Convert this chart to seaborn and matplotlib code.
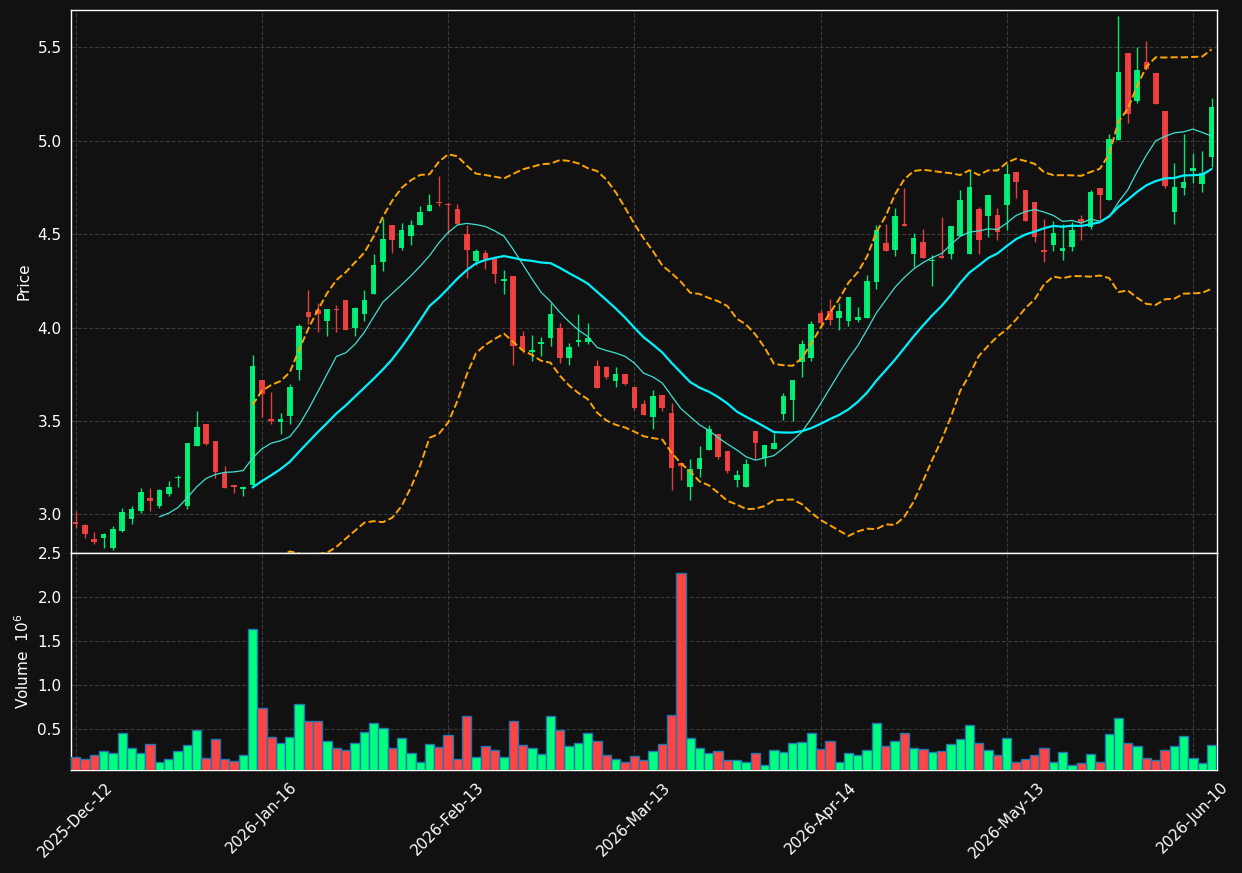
import numpy as np
import pandas as pd
import matplotlib
matplotlib.use("Agg")
import matplotlib.pyplot as plt
import seaborn as sns

# ---------------- data ----------------
opens = [2.96, 2.946, 2.871, 2.873, 2.82, 2.91, 2.975, 3.021, 3.086, 3.043,
         3.112, 3.193, 3.043, 3.366, 3.482, 3.391, 3.22, 3.157, 3.135, 3.16,
         3.718, 3.509, 3.494, 3.525, 3.776, 4.082, 4.093, 4.034, 4.10, 4.146,
         3.998, 4.073, 4.18, 4.351, 4.548, 4.424, 4.491, 4.549, 4.625, 4.675,
         4.66, 4.633, 4.499, 4.357, 4.398, 4.371, 4.251, 4.278, 3.958, 3.870,
         3.912, 3.946, 4.0, 3.836, 3.923, 3.923, 3.796, 3.792, 3.714, 3.75,
         3.685, 3.589, 3.521, 3.637, 3.541, 3.273, 3.146, 3.243, 3.345, 3.429,
         3.338, 3.186, 3.146, 3.445, 3.304, 3.352, 3.537, 3.612, 3.816, 3.837,
         4.078, 4.087, 4.052, 4.035, 4.041, 4.052, 4.244, 4.452, 4.416, 4.557,
         4.394, 4.457, 4.357, 4.382, 4.394, 4.491, 4.394, 4.633, 4.597, 4.601,
         4.657, 4.834, 4.736, 4.670, 4.414, 4.441, 4.411, 4.432, 4.579, 4.539,
         4.746, 4.682, 5.004, 5.47, 5.214, 5.42, 5.362, 5.159, 4.62, 4.748,
         4.839, 4.771, 4.914]
highs = [3.02, 2.95, 2.907, 2.90, 2.94, 3.036, 3.043, 3.143, 3.143, 3.135,
         3.18, 3.214, 3.38, 3.552, 3.482, 3.391, 3.257, 3.16, 3.15, 3.852,
         3.72, 3.655, 3.545, 3.70, 4.021, 4.20, 4.132, 4.098, 4.123, 4.146,
         4.11, 4.20, 4.396, 4.587, 4.548, 4.562, 4.578, 4.65, 4.714, 4.81,
         4.665, 4.664, 4.548, 4.423, 4.414, 4.371, 4.307, 4.278, 3.982, 3.962,
         3.948, 4.132, 4.025, 3.917, 4.075, 4.026, 3.828, 3.796, 3.79, 3.75,
         3.685, 3.614, 3.664, 3.637, 3.596, 3.273, 3.298, 3.364, 3.48, 3.429,
         3.338, 3.239, 3.298, 3.445, 3.373, 3.438, 3.652, 3.721, 3.932, 4.036,
         4.093, 4.155, 4.13, 4.164, 4.112, 4.28, 4.552, 4.557, 4.642, 4.75,
         4.508, 4.53, 4.391, 4.594, 4.542, 4.739, 4.842, 4.648, 4.708, 4.642,
         4.878, 4.834, 4.736, 4.670, 4.584, 4.572, 4.554, 4.563, 4.602, 4.736,
         4.746, 5.039, 5.668, 5.47, 5.50, 5.536, 5.365, 5.159, 4.879, 5.039,
         4.936, 4.946, 5.227]
lows = [2.93, 2.875, 2.843, 2.82, 2.81, 2.905, 2.95, 3.009, 3.018, 3.036,
        3.098, 3.146, 3.03, 3.365, 3.37, 3.197, 3.141, 3.116, 3.10, 3.146,
        3.521, 3.482, 3.432, 3.486, 3.721, 4.021, 3.977, 3.953, 3.977, 3.985,
        3.957, 4.036, 4.18, 4.305, 4.401, 4.417, 4.443, 4.549, 4.625, 4.65,
        4.503, 4.556, 4.268, 4.334, 4.316, 4.241, 4.178, 3.801, 3.866, 3.823,
        3.85, 3.90, 3.812, 3.801, 3.90, 3.914, 3.676, 3.726, 3.682, 3.691,
        3.557, 3.53, 3.459, 3.554, 3.129, 3.182, 3.079, 3.20, 3.345, 3.298,
        3.221, 3.146, 3.146, 3.295, 3.259, 3.352, 3.507, 3.498, 3.736, 3.821,
        4.01, 4.012, 3.989, 4.01, 4.032, 4.05, 4.209, 4.41, 4.385, 4.546,
        4.323, 4.373, 4.221, 4.375, 4.368, 4.491, 4.394, 4.396, 4.485, 4.471,
        4.523, 4.695, 4.571, 4.459, 4.35, 4.41, 4.36, 4.41, 4.468, 4.53,
        4.58, 4.682, 5.004, 5.096, 5.20, 5.38, 5.198, 4.748, 4.557, 4.709,
        4.775, 4.727, 4.861]
closes = [2.95, 2.893, 2.852, 2.893, 2.925, 3.011, 3.027, 3.123, 3.071, 3.129,
          3.148, 3.198, 3.38, 3.466, 3.375, 3.225, 3.141, 3.146, 3.145, 3.793,
          3.643, 3.503, 3.513, 3.68, 4.007, 4.057, 4.071, 4.098, 4.095, 3.985,
          4.103, 4.146, 4.333, 4.473, 4.469, 4.521, 4.548, 4.617, 4.657, 4.668,
          4.655, 4.556, 4.417, 4.408, 4.369, 4.287, 4.262, 3.901, 3.882, 3.879,
          3.925, 4.075, 3.836, 3.894, 3.932, 3.942, 3.676, 3.735, 3.75, 3.70,
          3.569, 3.532, 3.632, 3.568, 3.248, 3.259, 3.241, 3.30, 3.455, 3.307,
          3.232, 3.214, 3.268, 3.382, 3.373, 3.38, 3.632, 3.721, 3.911, 4.021,
          4.025, 4.039, 4.087, 4.162, 4.055, 4.248, 4.521, 4.41, 4.596, 4.546,
          4.478, 4.373, 4.364, 4.375, 4.542, 4.682, 4.751, 4.469, 4.708, 4.512,
          4.821, 4.78, 4.571, 4.486, 4.407, 4.504, 4.429, 4.522, 4.564, 4.725,
          4.709, 5.009, 5.368, 5.143, 5.378, 5.387, 5.198, 4.759, 4.752, 4.779,
          4.854, 4.83, 5.18]
volumes = [0.189, 0.159, 0.204, 0.250, 0.227, 0.454, 0.284, 0.227, 0.329, 0.136,
           0.159, 0.250, 0.318, 0.488, 0.181, 0.386, 0.159, 0.144, 0.204, 1.636,
           0.738, 0.409, 0.341, 0.409, 0.784, 0.590, 0.590, 0.363, 0.284, 0.261,
           0.341, 0.466, 0.568, 0.511, 0.284, 0.397, 0.227, 0.125, 0.329, 0.295,
           0.431, 0.159, 0.647, 0.189, 0.307, 0.261, 0.189, 0.590, 0.318, 0.284,
           0.216, 0.647, 0.488, 0.307, 0.341, 0.454, 0.363, 0.204, 0.166, 0.125,
           0.193, 0.148, 0.250, 0.329, 0.659, 2.273, 0.397, 0.284, 0.227, 0.250,
           0.148, 0.148, 0.125, 0.227, 0.102, 0.261, 0.238, 0.341, 0.352, 0.454,
           0.272, 0.363, 0.136, 0.227, 0.204, 0.261, 0.568, 0.307, 0.363, 0.454,
           0.284, 0.272, 0.238, 0.250, 0.329, 0.386, 0.545, 0.341, 0.261, 0.204,
           0.397, 0.125, 0.159, 0.204, 0.284, 0.125, 0.238, 0.102, 0.114, 0.216,
           0.136, 0.443, 0.625, 0.341, 0.307, 0.170, 0.148, 0.261, 0.307, 0.420,
           0.181, 0.114, 0.318]
tick_positions = [0, 20, 40, 60, 80, 100, 120]
tick_labels = ["2025-Dec-12", "2026-Jan-16", "2026-Feb-13", "2026-Mar-13",
               "2026-Apr-14", "2026-May-13", "2026-Jun-10"]

# ---------------- derived ----------------
df = pd.DataFrame({"open": opens, "high": highs, "low": lows,
                   "close": closes, "volume": volumes})
df["idx"] = np.arange(len(df))
df["dir"] = np.where(df["close"] >= df["open"], "up", "down")
df["ma10"] = df["close"].rolling(10).mean()
df["ma20"] = df["close"].rolling(20).mean()
sd = df["close"].rolling(20).std(ddof=0)
df["bb_up"] = df["ma20"] + 2 * sd
df["bb_lo"] = df["ma20"] - 2 * sd

BG = "#111111"
UP = "#00ff7f"
DOWN = "#ff4444"
GRID = "#3a3a3a"
FS = 11

sns.set_theme(style="dark", rc={
    "axes.facecolor": BG, "figure.facecolor": BG,
    "axes.edgecolor": "white", "axes.labelcolor": "white",
    "xtick.color": "white", "ytick.color": "white", "text.color": "white",
    "grid.color": GRID, "grid.linestyle": "--", "grid.linewidth": 0.8,
})
plt.rcParams["font.family"] = ["DejaVu Sans"]

fig = plt.figure(figsize=(12.42, 8.73), dpi=100)
ax1 = fig.add_axes([0.0574, 0.3670, 0.9221, 0.6215])
ax2 = fig.add_axes([0.0574, 0.1180, 0.9221, 0.2490], sharex=ax1)

# ---------------- candles ----------------
colors = np.where(df["dir"] == "up", UP, DOWN)
ax1.vlines(df["idx"], df["low"], df["high"], colors=colors, linewidth=1.0,
           alpha=0.9, zorder=2)
body_bottom = np.minimum(df["open"], df["close"])
body_h = np.maximum(np.abs(df["close"] - df["open"]), 0.006)
ax1.bar(df["idx"], body_h, bottom=body_bottom, width=0.6, color=colors,
        alpha=0.9, linewidth=0, zorder=3)

# ---------------- indicator lines ----------------
sns.lineplot(data=df, x="idx", y="ma10", ax=ax1, color="#40e0d0",
             linewidth=0.9, zorder=4)
sns.lineplot(data=df, x="idx", y="ma20", ax=ax1, color="#00f0ff",
             linewidth=1.6, zorder=4)
sns.lineplot(data=df, x="idx", y="bb_up", ax=ax1, color="#ffa500",
             linewidth=1.4, linestyle="--", zorder=4)
sns.lineplot(data=df, x="idx", y="bb_lo", ax=ax1, color="#ffa500",
             linewidth=1.4, linestyle="--", zorder=4)

# ---------------- volume ----------------
sns.barplot(data=df, x="idx", y="volume", hue="dir", hue_order=["up", "down"],
            palette={"up": UP, "down": DOWN}, dodge=False, native_scale=True,
            width=1.0, saturation=1.0, edgecolor="#1f77b4", linewidth=1.0,
            legend=False, ax=ax2, zorder=3)

# ---------------- axes styling ----------------
ax1.set_ylim(2.796, 5.70)
ax1.set_yticks([3.0, 3.5, 4.0, 4.5, 5.0, 5.5])
ax1.set_yticklabels(["3.0", "3.5", "4.0", "4.5", "5.0", "5.5"])
ax1.set_ylabel("Price", fontsize=FS)
ax1.set_xlabel("")
ax2.set_ylim(0.04, 2.5)
ax2.set_yticks([0.5, 1.0, 1.5, 2.0, 2.5])
ax2.set_yticklabels(["0.5", "1.0", "1.5", "2.0", "2.5"])
ax2.set_ylabel("Volume  $10^{6}$", fontsize=FS)
ax2.set_xlabel("")

ax2.set_xlim(-0.47, 122.53)
ax2.set_xticks(tick_positions)
ax2.set_xticklabels(tick_labels, rotation=45, ha="center", fontsize=FS)
ax1.tick_params(axis="x", labelbottom=False, length=0)

for ax in (ax1, ax2):
    ax.grid(True, axis="both", color=GRID, linestyle="--", linewidth=0.8)
    ax.set_axisbelow(True)
    ax.tick_params(axis="y", labelsize=FS, length=3.5, width=0.8, colors="white")
    for s in ax.spines.values():
        s.set_color("white")
        s.set_linewidth(1.0)
    ax.set_facecolor(BG)
ax2.tick_params(axis="x", length=3.5, width=0.8, colors="white")

fig.savefig("out.png", dpi=100, facecolor=BG)
